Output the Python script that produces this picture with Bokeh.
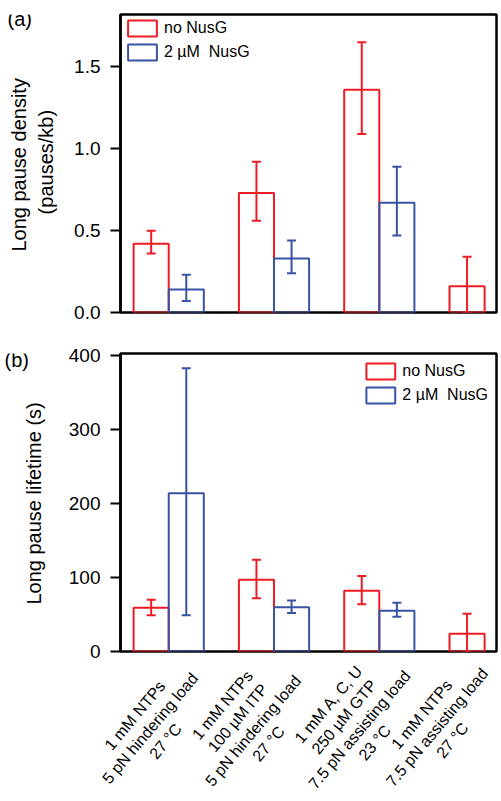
import numpy as np
from bokeh.plotting import figure
from bokeh.models import (ColumnDataSource, Range1d, FixedTicker, Whisker, TeeHead,
                          Legend, LegendItem, NumeralTickFormatter)
from bokeh.core.properties import value
from bokeh.layouts import column, row
from bokeh.embed import file_html
from bokeh.resources import INLINE

# ---------------- data ----------------
conditions = [
    "1 mM NTPs\n5 pN hindering load\n27 °C",
    "1 mM NTPs\n100 µM ITP\n5 pN hindering load\n27 °C",
    "1 mM A, C, U\n250 µM GTP\n7.5 pN assisting load\n23 °C",
    "1 mM NTPs\n7.5 pN assisting load\n27 °C",
]
series_names = ["no NusG", "2 µM  NusG"]
panel_tags = ["(a)", "(b)"]
ylabels = [["Long pause density", "(pauses/kb)"], ["Long pause lifetime (s)"]]

density_no = [0.42, 0.73, 1.36, 0.16]
density_no_lo = [0.36, 0.56, 1.09, 0.0]
density_no_hi = [0.50, 0.92, 1.65, 0.34]
density_g = [0.14, 0.33, 0.67]
density_g_lo = [0.07, 0.24, 0.47]
density_g_hi = [0.23, 0.44, 0.89]

lifetime_no = [59, 97, 82, 24]
lifetime_no_lo = [49, 72, 64, 0]
lifetime_no_hi = [70, 124, 102, 51]
lifetime_g = [214, 60, 55]
lifetime_g_lo = [49, 52, 47]
lifetime_g_hi = [383, 69, 66]

density_ticks = [0, 0.5, 1.0, 1.5]
lifetime_ticks = [0, 100, 200, 300, 400]

# ---------------- style / layout ----------------
RED = "#ED1C24"
BLUE = "#3953A4"
FONT = "Liberation Sans"
BAR_W = 1 / 3
W = 500
SW = 60                             # width of the left text strip
BL, BR = 120, 4                     # frame left / right (page px from edges)
X0, X1 = -0.458, 3.113              # x range of the panels (category units)
PPU = (W - BL - BR) / (X1 - X0)     # pixels per category unit
HA, HB = 333, 329                   # heights of the two panels
AXIS_B = 651                        # page y of panel (b) x axis
label_dx = [-22, -32, -31, -51]     # px offsets of the condition label blocks
label_dy = [74, 70, 69, 73]
LABEL_ANGLE = 50.0
LABEL_SIZE = 16
LINE_SP = 20


def make_panel(height, b_top, b_bottom, ymax, ticks, fmt,
               no_vals, no_lo, no_hi, g_vals, g_lo, g_hi, legend_loc, legend_margin):
    p = figure(width=W - SW, height=height, x_range=Range1d(X0, X1),
               y_range=Range1d(0, ymax), x_axis_type=None, title=None,
               output_backend="svg", toolbar_location=None,
               min_border_left=BL - SW, min_border_right=BR,
               min_border_top=b_top, min_border_bottom=b_bottom)
    p.grid.visible = False
    p.outline_line_color = "black"
    p.outline_line_width = 2.5
    p.outline_line_alpha = 1.0

    ya = p.yaxis[0]
    ya.ticker = FixedTicker(ticks=ticks)
    ya.formatter = NumeralTickFormatter(format=fmt)
    ya.axis_line_width = 2.5
    ya.axis_line_color = "black"
    ya.major_tick_line_width = 2
    ya.major_tick_out = 10
    ya.major_tick_in = 0
    ya.minor_tick_out = 0
    ya.minor_tick_in = 0
    ya.major_label_standoff = 10
    ya.major_label_text_font = FONT
    ya.major_label_text_font_size = "19px"
    ya.major_label_text_color = "black"

    xn = np.arange(len(no_vals))
    xg = np.arange(len(g_vals))
    r_no = p.vbar(x=xn - BAR_W / 2, top=no_vals, bottom=0, width=BAR_W,
                  fill_color=None, line_color=RED, line_width=2)
    r_g = p.vbar(x=xg + BAR_W / 2, top=g_vals, bottom=0, width=BAR_W,
                 fill_color=None, line_color=BLUE, line_width=2)

    for xs, lo, hi, col in ((xn - BAR_W / 2, no_lo, no_hi, RED),
                            (xg + BAR_W / 2, g_lo, g_hi, BLUE)):
        src = ColumnDataSource(dict(x=xs, lo=lo, hi=hi))
        w = Whisker(base="x", lower="lo", upper="hi", source=src,
                    line_color=col, line_width=2,
                    upper_head=TeeHead(size=9, line_color=col, line_width=2),
                    lower_head=TeeHead(size=9, line_color=col, line_width=2))
        p.add_layout(w)

    legend = Legend(items=[LegendItem(label=series_names[0], renderers=[r_no]),
                           LegendItem(label=series_names[1], renderers=[r_g])],
                    location=legend_loc, glyph_width=36, glyph_height=20,
                    label_standoff=4, spacing=4, padding=0, margin=legend_margin,
                    border_line_alpha=0, background_fill_alpha=0,
                    label_text_font=FONT, label_text_font_size="16px",
                    label_text_color="black")
    p.add_layout(legend)
    return p


def text_canvas(width, height, top):
    """A figure whose frame is the whole canvas, in page-pixel units (y = -page_y)."""
    s = figure(width=width, height=height, x_range=Range1d(0, width),
               y_range=Range1d(-(top + height), -top), x_axis_type=None, y_axis_type=None,
               title=None, output_backend="svg", toolbar_location=None,
               min_border_left=0, min_border_right=0, min_border_top=0, min_border_bottom=0)
    s.grid.visible = False
    s.outline_line_color = None
    return s


TXT = dict(text_font=value(FONT), text_color="black", text_baseline="alphabetic")
UP = float(np.pi / 2)
FLAT = 1e-4

pa = make_panel(HA, 14, 21, 1.82, density_ticks, "0.0",
                density_no, density_no_lo, density_no_hi,
                density_g, density_g_lo, density_g_hi, "top_left", 4)
pb = make_panel(HB, 20, 11, 403, lifetime_ticks, "0",
                lifetime_no, lifetime_no_lo, lifetime_no_hi,
                lifetime_g, lifetime_g_lo, lifetime_g_hi, "top_right", 8)

# left strips: panel tags and y-axis titles
sa = text_canvas(SW, HA, 0)
sa.text(x=[7.0], y=[-5.0], text=[panel_tags[0]], angle=[FLAT], text_font_size="20px",
        text_align="left", **TXT)
sa.text(x=[18.5, 45.5], y=[-168.0, -165.0], text=ylabels[0], angle=[UP, UP],
        text_font_size="20px", text_align="center", **TXT)

sb = text_canvas(SW, HB, HA)
sb.text(x=[4.0], y=[-340.0], text=[panel_tags[1]], angle=[FLAT], text_font_size="20px",
        text_align="left", **TXT)
sb.text(x=[33.8], y=[-498.5], text=ylabels[1], angle=[UP],
        text_font_size="20px", text_align="center", **TXT)

# bottom strip: rotated condition labels, one text per line
HC = 800 - HA - HB
pc = text_canvas(W, HC, HA + HB)
th = float(np.deg2rad(LABEL_ANGLE))
s_th, c_th = float(np.sin(th)), float(np.cos(th))
lx, ly, lt, la = [], [], [], []
for i, cond in enumerate(conditions):
    lines = cond.split("\n")
    n = len(lines)
    cx = BL + (i - X0) * PPU + label_dx[i]
    cy = AXIS_B + label_dy[i]
    for k, line in enumerate(lines):
        off = (k - (n - 1) / 2) * LINE_SP + 0.28 * LABEL_SIZE   # to the baseline
        lx.append(float(cx + off * s_th))
        ly.append(float(-(cy + off * c_th)))
        lt.append(line)
        la.append(th)
pc.text(x=lx, y=ly, text=lt, angle=la, text_font_size=f"{LABEL_SIZE}px",
        text_align="center", **TXT)

layout = column(row(sa, pa), row(sb, pb), pc)
open("out.html", "w").write(file_html(layout, INLINE))
